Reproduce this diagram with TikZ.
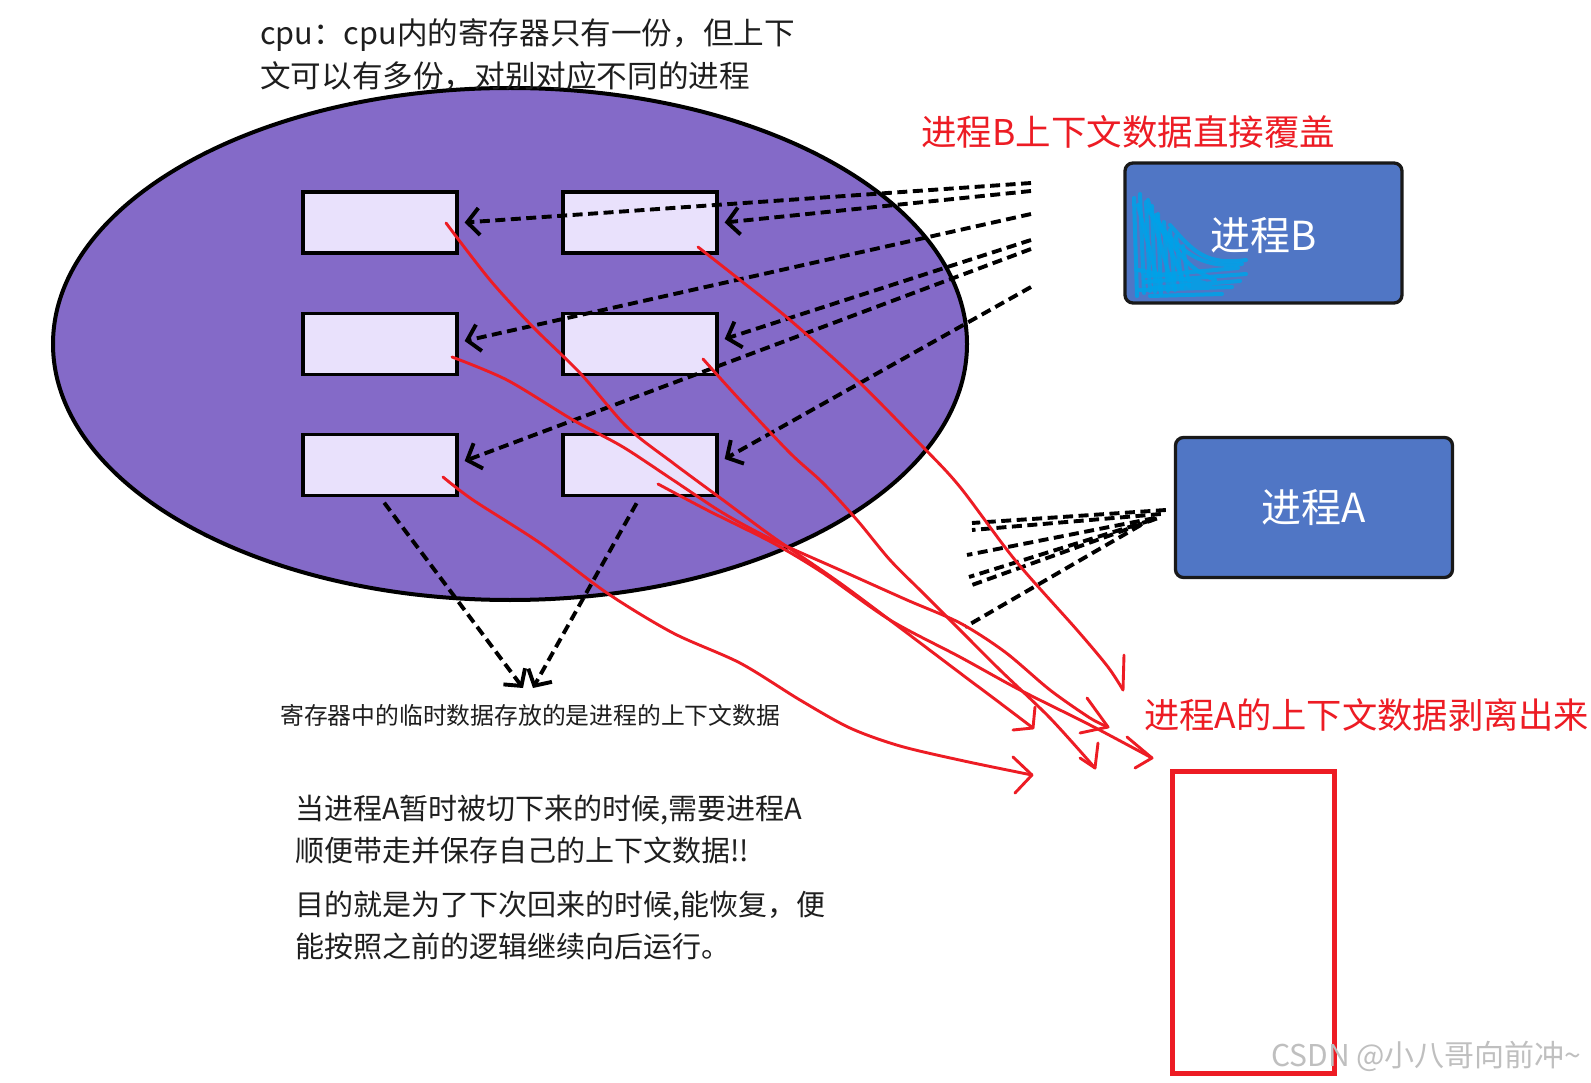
\documentclass[tikz,border=0pt]{standalone}
\usepackage{fontspec}
\setmainfont{Noto Sans CJK SC}
\usetikzlibrary{shapes.geometric,arrows.meta,calc}
\definecolor{cpufill}{RGB}{132,106,200}
\definecolor{regfill}{RGB}{233,225,252}
\definecolor{procfill}{RGB}{80,118,197}
\definecolor{inkred}{RGB}{237,28,36}
\definecolor{scrib}{RGB}{0,162,232}
\definecolor{txt}{RGB}{30,30,30}
\begin{document}
\begin{tikzpicture}[x=1pt,y=-1pt,
  reg/.style={draw=black, line width=3.3pt, fill=regfill, minimum width=154pt, minimum height=61pt, inner sep=0pt},
  proc/.style={draw=black!90, line width=3.3pt, fill=procfill, rounded corners=8pt, minimum width=277pt, minimum height=140pt, inner sep=0pt, text=white, font=\fontsize{40}{48}\selectfont},
  darr/.style={line width=3.9pt, dash pattern=on 10pt off 5.5pt, -{Straight Barb[length=12pt,width=27pt]}},
  dline/.style={line width=3.9pt, dash pattern=on 10pt off 5.5pt},
  ink/.style={draw=inkred, line width=2.9pt, line cap=round, line join=round},
  scribble/.style={draw=scrib, line width=4pt, line cap=round, line join=round, opacity=0.85},
  lbl/.style={anchor=base west, inner sep=0pt, text=txt},
]
% canvas
\fill[white] (0,0) rectangle (1591,1083);
\path[use as bounding box] (0,0) rectangle (1591,1083);

% CPU ellipse
\node[ellipse, draw=black, line width=4pt, fill=cpufill, minimum width=914pt, minimum height=512pt, inner sep=0pt] (cpu) at (510,344) {};

% registers
\node[reg] (l1) at (380,222.5) {};
\node[reg] (r1) at (640,222.5) {};
\node[reg] (l2) at (380,344) {};
\node[reg] (r2) at (640,344) {};
\node[reg] (l3) at (380,465) {};
\node[reg] (r3) at (640,465) {};

% processes
\node[proc] (pB) at (1263.5,233) {};
% scribble on process B
\draw[scribble] (1134,198) -- (1137,296) (1140,194) -- (1144,293) (1146,202) -- (1150,291)
  (1152,206) -- (1155,292) (1158,214) -- (1161,294) (1164,222) -- (1168,291) (1170,230) -- (1175,290)
  (1176,236) -- (1182,288) (1183,246) -- (1189,286);
\draw[scribble] (1138,205) -- (1160,290) (1148,200) -- (1172,285) (1156,215) -- (1185,284);
\draw[scribble] (1148,210) .. controls (1175,245) and (1195,270) .. (1242,264);
\draw[scribble] (1160,228) .. controls (1180,255) and (1190,270) .. (1215,280);
\draw[scribble] (1170,225) .. controls (1192,250) and (1205,266) .. (1246,260);
\draw[scribble] (1140,290) -- (1232,287) (1144,282) -- (1246,274) (1150,296) -- (1222,294) (1138,270) -- (1205,283)
  (1146,276) -- (1238,268) (1152,288) -- (1240,281);
\node[text=white, font=\fontsize{40}{48}\selectfont, inner sep=0pt] (pBt) at (1263.5,236) {进程B};

\node[proc] (pA) at (1314,507.5) {进程A};

% dashed arrows from process B side
\coordinate (b1) at (1031,183);
\coordinate (b2) at (1031,191);
\coordinate (b3) at (1031,214);
\coordinate (b4) at (1031,240);
\coordinate (b5) at (1031,249);
\coordinate (b6) at (1031,287);
\draw[darr] (b1) -- ([xshift=6pt]l1.east);
\draw[darr] (b2) -- ([xshift=6pt]r1.east);
\draw[darr] (b3) -- ([xshift=6pt,yshift=3pt]l2.east);
\draw[darr] (b4) -- ([xshift=6pt,yshift=5pt]r2.east);
\draw[darr] (b5) -- ([xshift=6pt,yshift=4pt]l3.east);
\draw[darr] (b6) -- ([xshift=6pt,yshift=6pt]r3.east);

% dashed lines from process A
\coordinate (a1) at (972,523);
\coordinate (a2) at (972,530);
\coordinate (a3) at (967,555);
\coordinate (a4) at (969,577);
\coordinate (a5) at (972,585);
\coordinate (a6) at (965,627);
\draw[dline] ([shift={(-8pt,-2.5pt)}]pA.west) -- (a1);
\draw[dline] ([shift={(-13pt,-6.5pt)}]pA.west) -- (a2);
\draw[dline] ([shift={(-19pt,-10.5pt)}]pA.west) -- (a3);
\draw[dline] ([shift={(-22pt,-12.5pt)}]pA.west) -- (a4);
\draw[dline] ([shift={(-17pt,-11pt)}]pA.west) -- (a5);
\draw[dline] ([shift={(-33pt,-17.5pt)}]pA.west) -- (a6);

% dashed arrows down to the note
\coordinate (v1) at (523,688);
\coordinate (v2) at (533,688);
\draw[darr, shorten <=7pt] (l3.south) -- (v1);
\draw[darr, shorten <=7pt] (r3.south) -- (v2);

% red hand-drawn strokes
\draw[ink] plot[smooth, tension=0.5] coordinates {(698,247) (740,280) (790,320) (857,380) (923,447) (960,487) (1015,560) (1077,630) (1108,667) (1123,690)};
\draw[ink] (1123,690) -- (1124,655);
\draw[ink] plot[smooth, tension=0.5] coordinates {(446,223) (490,280) (533,327) (580,373) (627,427) (673,463) (723,500) (773,537) (840,583) (907,633) (960,673) (1000,703) (1033,728)};
\draw[ink] (1013,730) -- (1033,728) -- (1035,707);
\draw[ink] plot[smooth, tension=0.5] coordinates {(452,357) (507,380) (573,420) (623,447) (673,480) (723,513) (773,540) (840,570) (907,600) (960,623) (1005,652) (1050,690) (1090,718) (1108,727)};
\draw[ink] (1087,698) -- (1108,727) -- (1080,733);
\draw[ink] plot[smooth, tension=0.5] coordinates {(703,359) (740,400) (790,453) (823,483) (857,520) (890,560) (923,593) (960,630) (1000,670) (1050,718) (1095,768)};
\draw[ink] (1098,743) -- (1095,768) -- (1080,758);
\draw[ink] plot[smooth, tension=0.5] coordinates {(658,484) (707,510) (773,543) (823,573) (890,620) (960,657) (1020,690) (1090,725) (1152,758)};
\draw[ink] (1127,737) -- (1152,758) -- (1135,768);
\draw[ink] plot[smooth, tension=0.5] coordinates {(443,477) (473,500) (540,543) (607,593) (673,633) (740,663) (800,700) (850,728) (900,746) (964,761) (1032,775)};
\draw[ink] (1013,757) -- (1032,775) -- (1015,793);

% red box
\node[draw=inkred, line width=5pt, minimum width=162pt, minimum height=302pt, inner sep=0pt] (save) at (1253,922) {};

% texts
\node[lbl, font=\fontsize{30.6}{36}\selectfont] (t1) at (260,44.1) {cpu：cpu内的寄存器只有一份，但上下};
\node[lbl, font=\fontsize{30.6}{36}\selectfont] (t2) at (260,87.6) {文可以有多份，对别对应不同的进程};
\node[lbl, text=inkred, font=\fontsize{35.5}{40}\selectfont] (redB) at (921,145.5) {进程B上下文数据直接覆盖};
\node[lbl, text=inkred, font=\fontsize{35.3}{40}\selectfont] (redA) at (1144,728.5) {进程A的上下文数据剥离出来};
\node[lbl, font=\fontsize{23.8}{28}\selectfont] (note) at (280,724.4) {寄存器中的临时数据存放的是进程的上下文数据};
\node[lbl, font=\fontsize{29}{34}\selectfont] (p1) at (295,819.7) {当进程A暂时被切下来的时候,需要进程A};
\node[lbl, font=\fontsize{29}{34}\selectfont] (p2) at (295,861.3) {顺便带走并保存自己的上下文数据!!};
\node[lbl, font=\fontsize{29}{34}\selectfont] (p3) at (295,915.1) {目的就是为了下次回来的时候,能恢复，便};
\node[lbl, font=\fontsize{29}{34}\selectfont] (p4) at (295,957.7) {能按照之前的逻辑继续向后运行。};
\node[lbl, text=black!25, font=\fontsize{30}{34}\selectfont] (wm) at (1271,1066) {CSDN @小八哥向前冲\textasciitilde};
\end{tikzpicture}
\end{document}
